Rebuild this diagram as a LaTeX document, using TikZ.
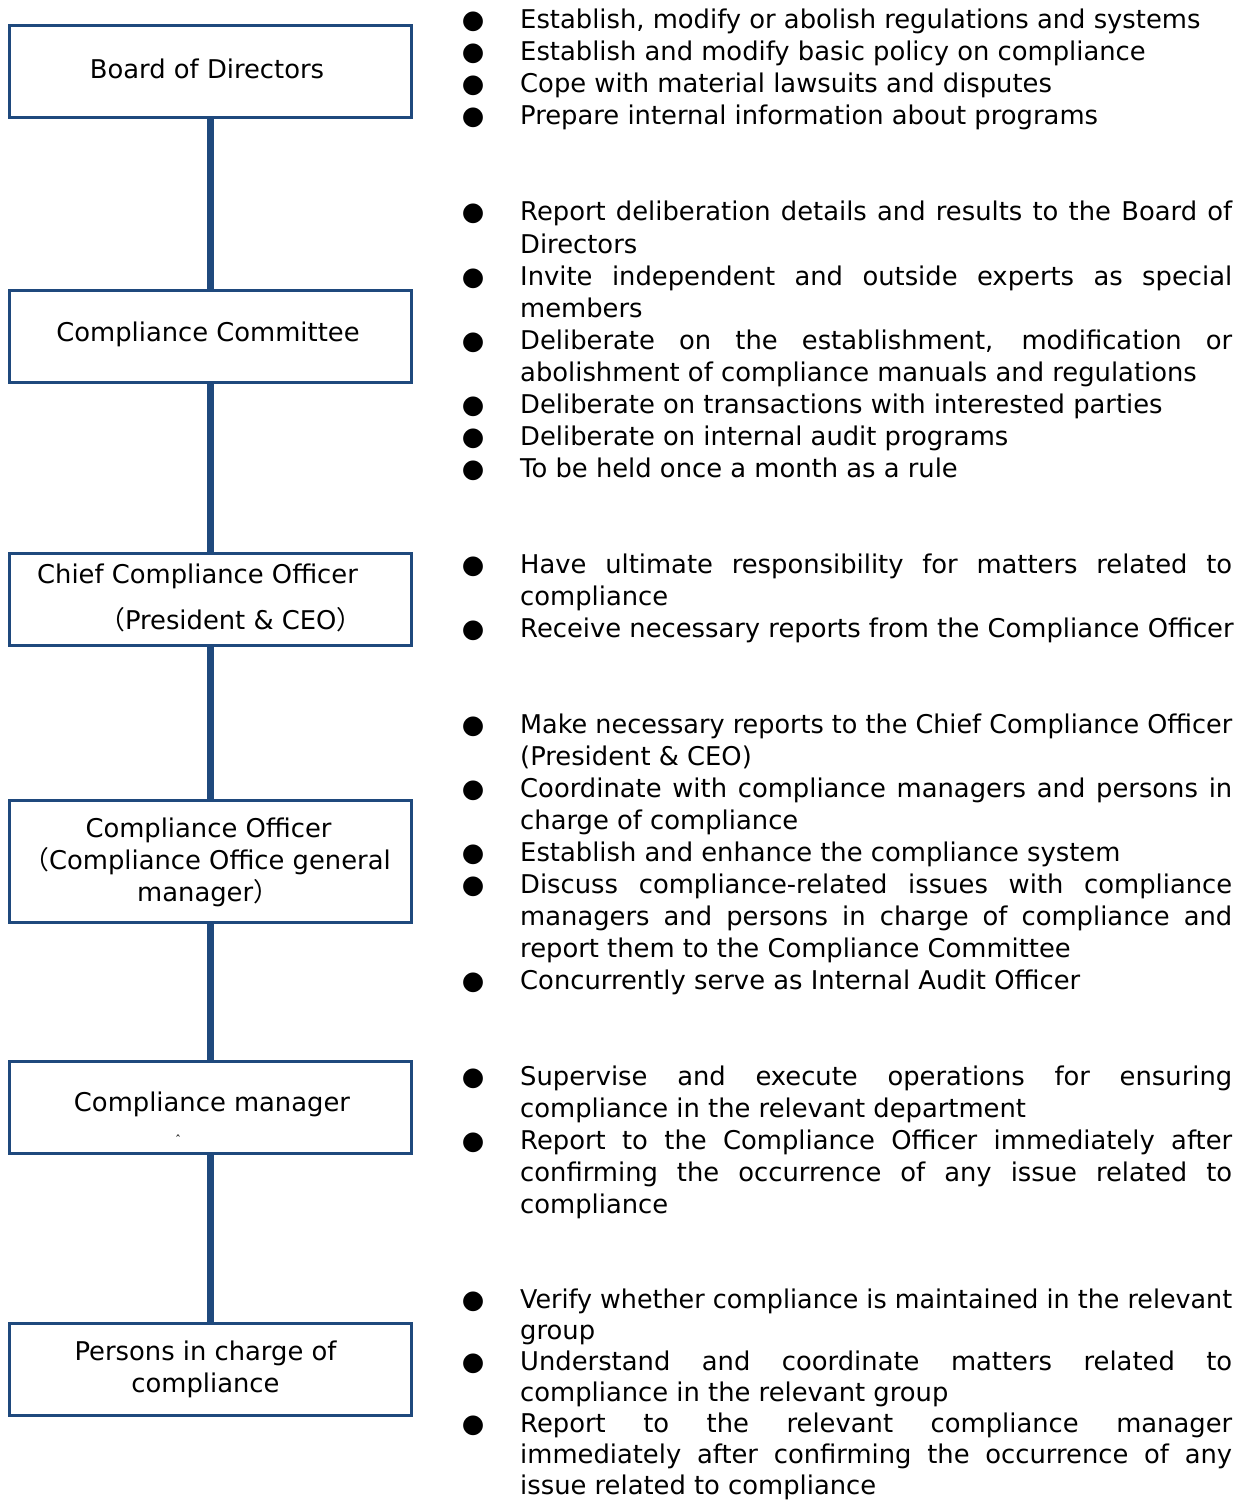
\documentclass[tikz,border=0pt]{standalone}
\usepackage{fontspec}
\usepackage{graphicx}
\setmainfont{DejaVu Sans}
\newfontfamily\cjkfont{Noto Sans CJK JP}

\definecolor{boxblue}{RGB}{31,73,125}

% full-width parentheses
\newcommand\fwl{{\cjkfont （}}
\newcommand\fwr{{\cjkfont ）}}

% justified line of the description column
\newlength\colw
\setlength\colw{712bp}
\newsavebox\jbox
\newcommand\J[1]{\sbox\jbox{#1}%
  \ifdim\wd\jbox>\colw\resizebox{\colw}{\height}{#1}%
  \else\makebox[\colw][s]{#1}\fi}

\newcommand\txtsize{\fontsize{25.8bp}{32bp}\selectfont}

\tikzset{
  box/.style={draw=boxblue, line width=3bp, fill=white,
              minimum width=401bp, inner sep=0pt},
  link/.style={draw=boxblue, line width=6.5bp},
  lbl/.style={font=\txtsize, inner sep=0pt, anchor=base},
  ln/.style={font=\txtsize, inner sep=0pt, anchor=base west},
  dot/.style={font=\txtsize, inner sep=0pt, anchor=base},
}

\begin{document}
\begin{tikzpicture}[x=1bp,y=-1bp]
\fill[white] (0,0) rectangle (1248,1502);
\useasboundingbox (0,0) rectangle (1248,1502);

% ---- organisation boxes ----
\node[box, minimum height=92bp]  (board)  at (210.5,72)   {};
\node[box, minimum height=92bp]  (comm)   at (210.5,336)  {};
\node[box, minimum height=92bp]  (cco)    at (210.5,599)  {};
\node[box, minimum height=122bp] (co)     at (210.5,861)  {};
\node[box, minimum height=92bp]  (mgr)    at (210.5,1107) {};
\node[box, minimum height=92bp]  (pic)    at (210.5,1369) {};

\draw[link] (board.south) -- (comm.north);
\draw[link] (comm.south)  -- (cco.north);
\draw[link] (cco.south)   -- (co.north);
\draw[link] (co.south)    -- (mgr.north);
\draw[link] (mgr.south)   -- (pic.north);

% ---- box labels ----
\node[lbl] (boardT) at (207,79) {Board of Directors};
\node[lbl] (commT)  at (208,341) {Compliance Committee};
\node[ln]  (ccoT1)  at (37,583) {Chief Compliance Officer};
\node[ln]  (ccoT2)  at (99,629) {\fwl President \& CEO\fwr};
\node[lbl] (coT1)   at (208.5,837) {Compliance Officer};
\node[lbl, anchor=base east] (coT2) at (391,869) {\fwl Compliance Office general};
\node[ln]  (coT3)   at (137,901) {manager\fwr};
\node[lbl] (mgrT)   at (212,1111) {Compliance manager};
\node[lbl, font=\fontsize{12bp}{12bp}\selectfont] (mgrM) at (178,1144) {ˆ};
\node[lbl] (picT1)  at (205.5,1360) {Persons in charge of};
\node[lbl] (picT2)  at (205.5,1392) {compliance};

% ---- Board of Directors ----
\node[dot] (d11) at (473,29) {●};
\node[ln]  (t11) at (520,29) {Establish, modify or abolish regulations and systems};
\node[dot] (d12) at (473,61) {●};
\node[ln]  (t12) at (520,61) {Establish and modify basic policy on compliance};
\node[dot] (d13) at (473,93) {●};
\node[ln]  (t13) at (520,93) {Cope with material lawsuits and disputes};
\node[dot] (d14) at (473,125) {●};
\node[ln]  (t14) at (520,125) {Prepare internal information about programs};

% ---- Compliance Committee ----
\node[dot] (d21) at (473,221) {●};
\node[ln]  (t21a) at (520,221) {\J{Report deliberation details and results to the Board of}};
\node[ln]  (t21b) at (520,253) {Directors};
\node[dot] (d22) at (473,285) {●};
\node[ln]  (t22a) at (520,285) {\J{Invite independent and outside experts as special}};
\node[ln]  (t22b) at (520,317) {members};
\node[dot] (d23) at (473,349) {●};
\node[ln]  (t23a) at (520,349) {\J{Deliberate on the establishment, modification or}};
\node[ln]  (t23b) at (520,381) {abolishment of compliance manuals and regulations};
\node[dot] (d24) at (473,413) {●};
\node[ln]  (t24) at (520,413) {Deliberate on transactions with interested parties};
\node[dot] (d25) at (473,445) {●};
\node[ln]  (t25) at (520,445) {Deliberate on internal audit programs};
\node[dot] (d26) at (473,477) {●};
\node[ln]  (t26) at (520,477) {To be held once a month as a rule};

% ---- Chief Compliance Officer ----
\node[dot] (d31) at (473,573) {●};
\node[ln]  (t31a) at (520,573) {\J{Have ultimate responsibility for matters related to}};
\node[ln]  (t31b) at (520,605) {compliance};
\node[dot] (d32) at (473,637) {●};
\node[ln]  (t32) at (520,637) {Receive necessary reports from the Compliance Officer};

% ---- Compliance Officer ----
\node[dot] (d41) at (473,733) {●};
\node[ln]  (t41a) at (520,733) {\J{Make necessary reports to the Chief Compliance Officer}};
\node[ln]  (t41b) at (520,765) {(President \& CEO)};
\node[dot] (d42) at (473,797) {●};
\node[ln]  (t42a) at (520,797) {\J{Coordinate with compliance managers and persons in}};
\node[ln]  (t42b) at (520,829) {charge of compliance};
\node[dot] (d43) at (473,861) {●};
\node[ln]  (t43) at (520,861) {Establish and enhance the compliance system};
\node[dot] (d44) at (473,893) {●};
\node[ln]  (t44a) at (520,893) {\J{Discuss compliance-related issues with compliance}};
\node[ln]  (t44b) at (520,925) {\J{managers and persons in charge of compliance and}};
\node[ln]  (t44c) at (520,957) {report them to the Compliance Committee};
\node[dot] (d45) at (473,989) {●};
\node[ln]  (t45) at (520,989) {Concurrently serve as Internal Audit Officer};

% ---- Compliance manager ----
\node[dot] (d51) at (473,1085) {●};
\node[ln]  (t51a) at (520,1085) {\J{Supervise and execute operations for ensuring}};
\node[ln]  (t51b) at (520,1117) {compliance in the relevant department};
\node[dot] (d52) at (473,1149) {●};
\node[ln]  (t52a) at (520,1149) {\J{Report to the Compliance Officer immediately after}};
\node[ln]  (t52b) at (520,1181) {\J{confirming the occurrence of any issue related to}};
\node[ln]  (t52c) at (520,1213) {compliance};

% ---- Persons in charge of compliance ----
\node[dot] (d61) at (473,1308) {●};
\node[ln]  (t61a) at (520,1308) {\J{Verify whether compliance is maintained in the relevant}};
\node[ln]  (t61b) at (520,1339) {group};
\node[dot] (d62) at (473,1370) {●};
\node[ln]  (t62a) at (520,1370) {\J{Understand and coordinate matters related to}};
\node[ln]  (t62b) at (520,1401) {compliance in the relevant group};
\node[dot] (d63) at (473,1432) {●};
\node[ln]  (t63a) at (520,1432) {\J{Report to the relevant compliance manager}};
\node[ln]  (t63b) at (520,1463) {\J{immediately after confirming the occurrence of any}};
\node[ln]  (t63c) at (520,1494) {issue related to compliance};
\end{tikzpicture}
\end{document}
